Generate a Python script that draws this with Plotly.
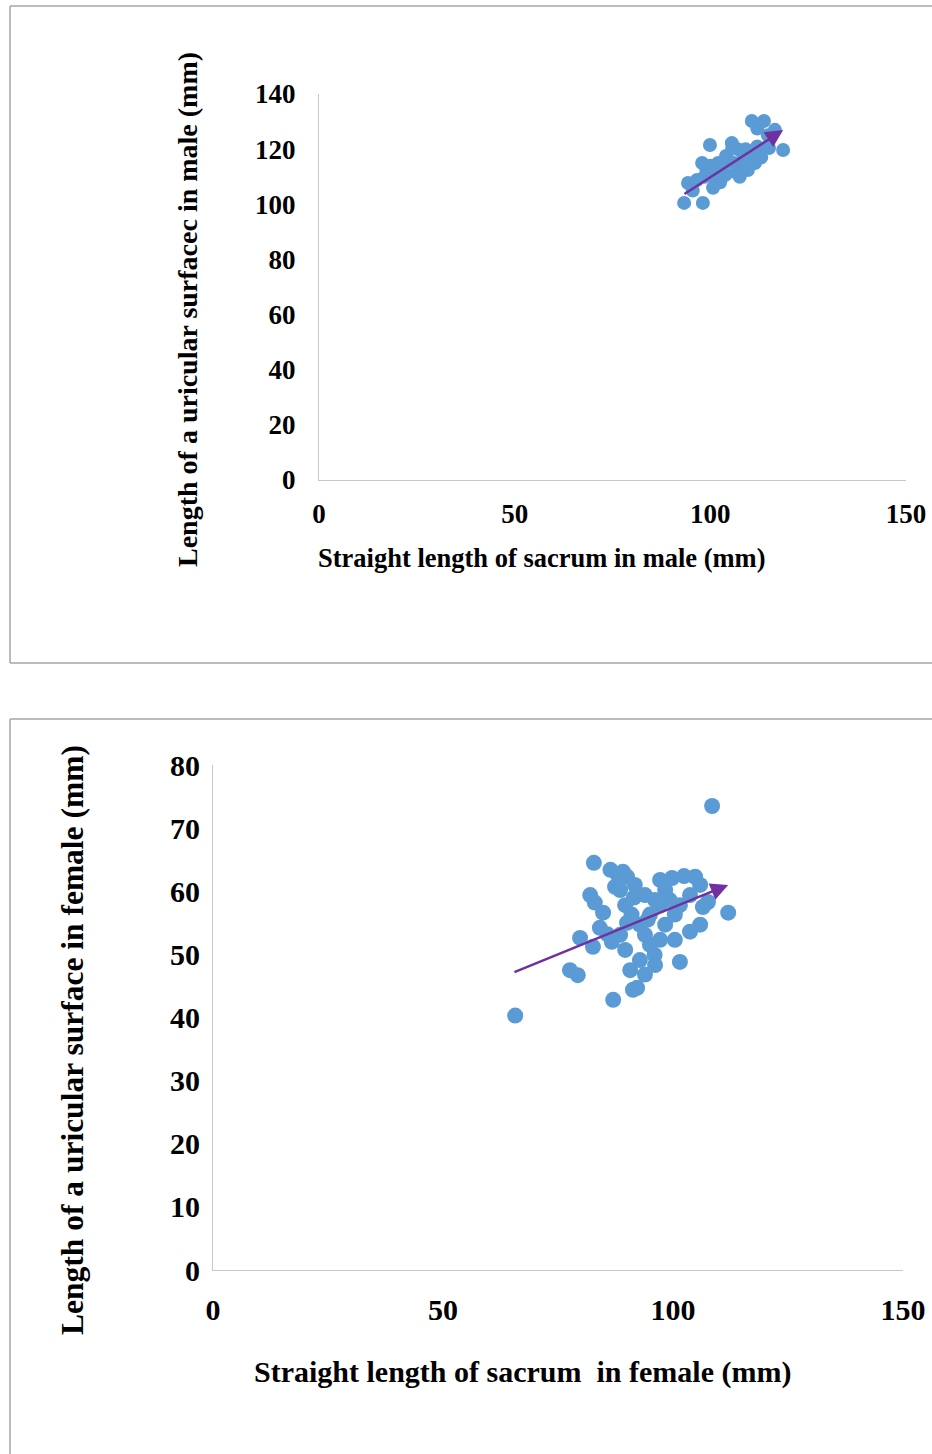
import plotly.graph_objects as go

W, H = 932, 1454

# ---------------- data ----------------
male_x = [93.3, 98.1, 94.3, 96.6, 97.9, 99.9, 99.0, 101.0, 100.7, 102.5, 103.0, 104.6,
          105.6, 107.0, 109.0, 110.0, 108.0, 106.4, 109.6, 111.4, 110.6, 113.7, 114.7,
          116.5, 118.6, 115.0, 112.7, 103.8, 95.5, 98.5, 101.5, 104.0, 106.0, 108.5,
          111.0, 113.0, 100.0, 102.0, 107.5, 112.0, 105.5, 112.0]
male_y = [100.5, 100.5, 107.7, 108.8, 115.0, 121.5, 112.4, 109.5, 106.0, 108.0, 113.0, 116.0,
          120.4, 120.0, 120.0, 118.0, 114.0, 111.7, 112.4, 115.0, 130.2, 130.2, 125.0,
          127.0, 119.7, 120.4, 119.7, 110.6, 105.0, 110.0, 111.0, 117.5, 115.0, 117.0,
          119.0, 117.0, 114.0, 115.0, 110.0, 121.0, 122.2, 127.5]

female_x = [108.5, 65.7, 87.0, 92.2, 77.6, 79.3, 101.5, 112.0, 82.8, 107.6, 79.8, 82.6,
            82.0, 83.0, 84.8, 88.0, 90.0, 87.4, 97.2, 99.8, 102.4, 104.8, 105.9, 100.4,
            103.7, 105.9, 106.5, 88.5, 89.6, 91.0, 92.8, 93.9, 95.0, 96.0, 92.8, 90.7,
            93.9, 96.1, 97.2, 98.3, 96.1, 93.9, 91.7, 95.0, 97.2, 99.3, 101.5, 103.7,
            100.4, 98.3, 88.5, 86.7, 89.6, 84.1, 85.7, 91.5, 94.5, 90.0, 86.4, 89.1, 91.3]
female_y = [73.5, 40.3, 42.8, 44.7, 47.5, 46.7, 48.8, 56.6, 64.5, 58.3, 52.6, 51.2,
            59.4, 58.2, 56.6, 62.6, 62.3, 60.7, 61.8, 62.1, 62.4, 62.3, 61.0, 52.3,
            53.6, 54.7, 57.5, 60.2, 57.8, 56.3, 54.7, 53.1, 51.5, 49.9, 49.1, 47.5,
            46.8, 48.3, 52.3, 54.7, 58.6, 59.4, 61.0, 56.3, 57.8, 58.6, 57.8, 59.4,
            56.3, 60.2, 53.1, 52.0, 50.7, 54.2, 53.2, 59.0, 55.5, 55.0, 63.4, 63.1, 44.4]

# trend line endpoints (x range and fitted y)
male_trend_x = [93.0, 118.6]
male_trend_y = [103.4, 126.9]
female_trend_x = [65.2, 112.0]
female_trend_y = [47.1, 61.0]

male_xticks = [0, 50, 100, 150]
male_yticks = [0, 20, 40, 60, 80, 100, 120, 140]
female_xticks = [0, 50, 100, 150]
female_yticks = [0, 10, 20, 30, 40, 50, 60, 70, 80]

BLUE = "#5B9BD5"
PURPLE = "#7030A0"
FONT = "Liberation Serif"

def px(x):
    return x / W

def py(y):
    return 1 - y / H

fig = go.Figure()

fig.add_trace(go.Scatter(x=male_x, y=male_y, mode="markers", xaxis="x", yaxis="y",
                         marker=dict(color=BLUE, size=14, line=dict(width=0)),
                         showlegend=False, hoverinfo="skip"))
fig.add_trace(go.Scatter(x=[115.8], y=[124.3], mode="markers", xaxis="x", yaxis="y",
                         marker=dict(color="black", size=8, symbol="triangle-down"),
                         showlegend=False, hoverinfo="skip"))
fig.add_trace(go.Scatter(x=female_x, y=female_y, mode="markers", xaxis="x2", yaxis="y2",
                         marker=dict(color=BLUE, size=16, line=dict(width=0)),
                         showlegend=False, hoverinfo="skip"))

axis_common = dict(showgrid=False, zeroline=False, showline=True, linecolor="#C8C8C8",
                   linewidth=1, ticks="", mirror=False, fixedrange=True, automargin=False)

fig.update_layout(
    width=W, height=H, autosize=False,
    margin=dict(l=0, r=0, t=0, b=0, pad=0, autoexpand=False),
    paper_bgcolor="white", plot_bgcolor="white",
    xaxis=dict(domain=[px(319), px(906)], range=[0, 150], tickvals=male_xticks,
               anchor="y", tickfont=dict(family=FONT, size=27, color="black", weight="bold"),
               ticklabelstandoff=10, **axis_common),
    yaxis=dict(domain=[py(480), py(94)], range=[0, 140], tickvals=male_yticks,
               anchor="x", tickfont=dict(family=FONT, size=27, color="black", weight="bold"),
               ticklabelstandoff=17, **axis_common),
    xaxis2=dict(domain=[px(213), px(903)], range=[0, 150], tickvals=female_xticks,
                anchor="y2", tickfont=dict(family=FONT, size=30, color="black", weight="bold"),
                ticklabelstandoff=13, **axis_common),
    yaxis2=dict(domain=[py(1270), py(765)], range=[0, 80], tickvals=female_yticks,
                anchor="x2", tickfont=dict(family=FONT, size=30, color="black", weight="bold"),
                ticklabelstandoff=6, **axis_common),
)

annotations = []
# trend arrows
for (tx, ty, xr, yr) in [(male_trend_x, male_trend_y, "x", "y"),
                         (female_trend_x, female_trend_y, "x2", "y2")]:
    annotations.append(dict(x=tx[1], y=ty[1], ax=tx[0], ay=ty[0], xref=xr, yref=yr,
                            axref=xr, ayref=yr, showarrow=True, arrowhead=2,
                            arrowsize=1.4, arrowwidth=2.5, arrowcolor=PURPLE, text=""))

title_x_top = dict(family=FONT, size=26.5, color="black", weight="bold")
title_y_top = dict(family=FONT, size=28, color="black", weight="bold")
title_x_bot = dict(family=FONT, size=30, color="black", weight="bold")
title_y_bot = dict(family=FONT, size=31.5, color="black", weight="bold")
annotations += [
    dict(text="Straight length of sacrum in male (mm)", x=px(542), y=py(558),
         xref="paper", yref="paper", showarrow=False, font=title_x_top,
         xanchor="center", yanchor="middle"),
    dict(text="Length of a uricular surfacec in male (mm)", x=px(188), y=py(310),
         xref="paper", yref="paper", showarrow=False, font=title_y_top, textangle=-90,
         xanchor="center", yanchor="middle"),
    dict(text="Straight length of sacrum&nbsp; in female (mm)", x=px(522), y=py(1372),
         xref="paper", yref="paper", showarrow=False, font=title_x_bot,
         xanchor="center", yanchor="middle"),
    dict(text="Length of a uricular surface in female (mm)", x=px(72), y=py(1040),
         xref="paper", yref="paper", showarrow=False, font=title_y_bot, textangle=-90,
         xanchor="center", yanchor="middle"),
]
fig.update_layout(annotations=annotations)

BOX = dict(color="#A6A6A6", width=1.5)
fig.update_layout(shapes=[
    # top panel frame (left, top, bottom edges; right edge runs off the page)
    dict(type="line", xref="paper", yref="paper", x0=px(10), x1=px(10), y0=py(663), y1=py(6), line=BOX),
    dict(type="line", xref="paper", yref="paper", x0=px(10), x1=1.0, y0=py(6), y1=py(6), line=BOX),
    dict(type="line", xref="paper", yref="paper", x0=px(10), x1=1.0, y0=py(663), y1=py(663), line=BOX),
    # bottom panel frame (left and top edges)
    dict(type="line", xref="paper", yref="paper", x0=px(10), x1=px(10), y0=0.0, y1=py(719), line=BOX),
    dict(type="line", xref="paper", yref="paper", x0=px(10), x1=1.0, y0=py(719), y1=py(719), line=BOX),
])

fig.write_html("out.html", config={"displayModeBar": False},
               post_script="document.body.style.margin='0';document.body.style.padding='0';"
                           "document.body.style.overflow='hidden';")
